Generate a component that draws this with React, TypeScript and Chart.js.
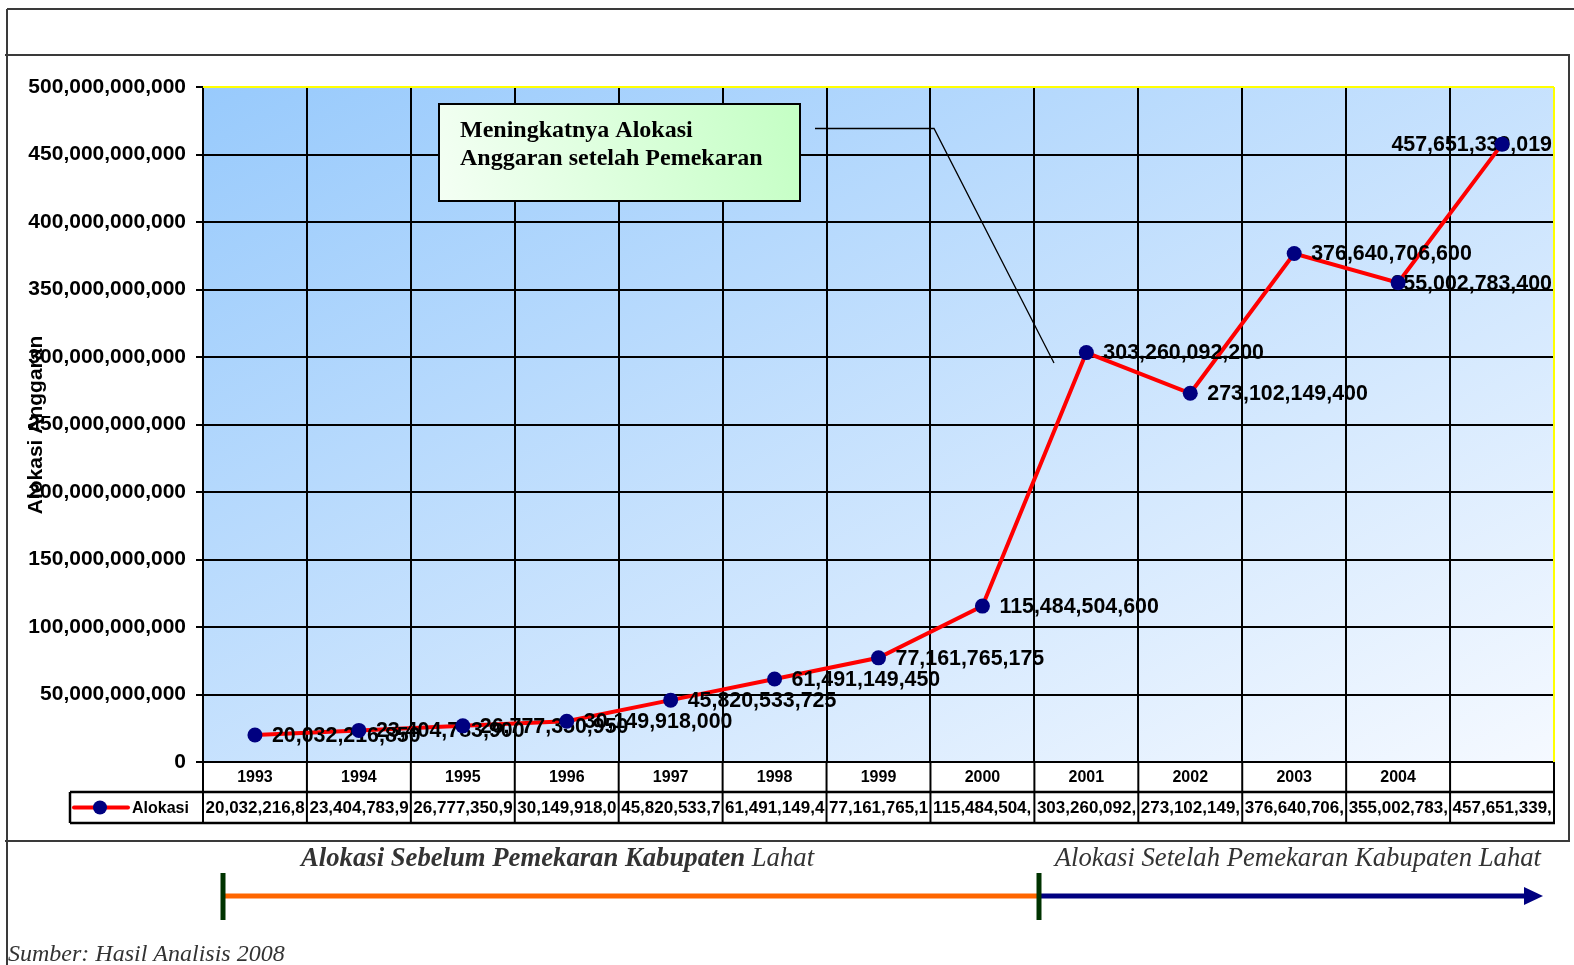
import React, { useEffect, useRef } from 'react';
import { Chart, registerables } from 'chart.js';

Chart.register(...registerables);

// ---------- data ----------
const categories = ['1993', '1994', '1995', '1996', '1997', '1998', '1999', '2000', '2001', '2002', '2003', '2004', ''];
const allocation = [
  20032216850, 23404783900, 26777350950, 30149918000, 45820533725, 61491149450,
  77161765175, 115484504600, 303260092200, 273102149400, 376640706600, 355002783400, 457651339019,
];
const yMin = 0;
const yMax = 500000000000;
const yStep = 50000000000;
const seriesName = 'Alokasi';
const axisTitle = 'Alokasi Anggaran';
const noteLines = ['Meningkatnya Alokasi', 'Anggaran setelah Pemekaran'];
const beforeLabelBold = 'Alokasi Sebelum Pemekaran Kabupaten';
const beforeLabelRest = ' Lahat';
const afterLabel = 'Alokasi Setelah Pemekaran Kabupaten Lahat';
const sourceNote = 'Sumber: Hasil Analisis 2008';

const SANS = '"Liberation Sans", Arial, sans-serif';
const SERIF = '"Liberation Serif", "Times New Roman", serif';

const fmt = (v: number) => String(Math.round(v)).replace(/\B(?=(\d{3})+(?!\d))/g, ',');

function line(ctx: CanvasRenderingContext2D, x1: number, y1: number, x2: number, y2: number) {
  ctx.beginPath();
  ctx.moveTo(x1, y1);
  ctx.lineTo(x2, y2);
  ctx.stroke();
}

function drawLabels(chart: any) {
  const { ctx, chartArea: a } = chart;
  const meta = chart.getDatasetMeta(1);
  ctx.save();
  ctx.font = `bold 21.4px ${SANS}`;
  ctx.textBaseline = 'middle';
  ctx.textAlign = 'left';
  ctx.fillStyle = '#000';
  meta.data.forEach((pt: any, i: number) => {
    const txt = fmt(allocation[i]);
    const w = ctx.measureText(txt).width;
    let x = pt.x + 17;
    if (x + w > a.right - 2) x = a.right - 2 - w;
    ctx.fillText(txt, x, pt.y + 1);
  });
  ctx.restore();
}

const decorPlugin = {
  id: 'decor',
  beforeDraw(chart: any) {
    const { ctx, chartArea: a } = chart;
    ctx.save();
    ctx.fillStyle = '#fff';
    ctx.fillRect(0, 0, chart.width, chart.height);
    const W = a.right - a.left;
    const H = a.bottom - a.top;
    const k = 2 / (1 / (W * W) + 1 / (H * H));
    const g = ctx.createLinearGradient(a.left, a.top, a.left + k / W, a.top + k / H);
    g.addColorStop(0, '#98CAFC');
    g.addColorStop(1, '#F5F9FF');
    ctx.fillStyle = g;
    ctx.fillRect(a.left, a.top, W, H);
    ctx.restore();
  },
  afterDatasetDraw(chart: any, args: any) {
    if (args.index === 1) drawLabels(chart);
  },
  afterDraw(chart: any) {
    const { ctx, chartArea: a } = chart;
    const xs = chart.scales.x;
    ctx.save();

    // plot border (yellow top & right)
    ctx.strokeStyle = '#FFFF00';
    ctx.lineWidth = 2;
    line(ctx, a.left, a.top, a.right, a.top);
    line(ctx, a.right, a.top, a.right, a.bottom);

    // y-axis title
    ctx.save();
    ctx.translate(36, 425);
    ctx.rotate(-Math.PI / 2);
    ctx.font = `bold 21px ${SANS}`;
    ctx.fillStyle = '#000';
    ctx.textAlign = 'center';
    ctx.textBaseline = 'middle';
    ctx.fillText(axisTitle, 0, 0);
    ctx.restore();

    // data table
    const n = categories.length;
    const colW = (a.right - a.left) / n;
    const top = a.bottom;
    const mid = a.bottom + 30;
    const bot = a.bottom + 61;
    const keyLeft = 70;
    ctx.strokeStyle = '#000';
    ctx.lineWidth = 2;
    for (let i = 0; i <= n; i++) {
      const x = i < n ? xs.getPixelForTick(i) - colW / 2 : a.right;
      line(ctx, x, top, x, bot);
    }
    ctx.lineWidth = 2.5;
    line(ctx, keyLeft, mid, a.right + 1, mid);
    line(ctx, keyLeft, bot, a.right + 1, bot);
    line(ctx, keyLeft, mid, keyLeft, bot);

    ctx.fillStyle = '#000';
    ctx.font = `bold 16px ${SANS}`;
    ctx.textBaseline = 'middle';
    ctx.textAlign = 'center';
    categories.forEach((c, i) => {
      ctx.fillText(c, xs.getPixelForTick(i), (top + mid) / 2 + 1);
    });
    ctx.textAlign = 'left';
    ctx.font = `bold 17px ${SANS}`;
    allocation.forEach((v, i) => {
      let txt = fmt(v);
      const maxW = colW - 3;
      while (txt.length > 0 && ctx.measureText(txt).width > maxW) txt = txt.slice(0, -1);
      ctx.fillText(txt, xs.getPixelForTick(i) - colW / 2 + 2.5, (mid + bot) / 2 + 1);
    });
    // legend key
    const ky = (mid + bot) / 2;
    ctx.strokeStyle = '#FF0000';
    ctx.lineWidth = 4;
    ctx.lineCap = 'round';
    line(ctx, keyLeft + 4, ky, keyLeft + 58, ky);
    ctx.lineCap = 'butt';
    ctx.fillStyle = '#000080';
    ctx.beginPath();
    ctx.arc(keyLeft + 30, ky, 7, 0, Math.PI * 2);
    ctx.fill();
    ctx.fillStyle = '#000';
    ctx.font = `bold 16px ${SANS}`;
    ctx.fillText(seriesName, keyLeft + 62, ky + 1);

    // annotation box
    const bx = 439, by = 104, bw = 361, bh = 97;
    const g2 = ctx.createLinearGradient(bx, by + bh, bx + bw, by);
    g2.addColorStop(0, '#F4FFF4');
    g2.addColorStop(1, '#C4FFC4');
    ctx.fillStyle = g2;
    ctx.fillRect(bx, by, bw, bh);
    ctx.strokeStyle = '#000';
    ctx.lineWidth = 2;
    ctx.strokeRect(bx, by, bw, bh);
    ctx.fillStyle = '#000';
    ctx.font = `bold 24px ${SERIF}`;
    ctx.textBaseline = 'middle';
    ctx.fillText(noteLines[0], 460, 131);
    ctx.fillText(noteLines[1], 460, 159);
    ctx.lineWidth = 1.3;
    ctx.beginPath();
    ctx.moveTo(815, 128.5);
    ctx.lineTo(934, 128.5);
    ctx.lineTo(1054, 363);
    ctx.stroke();

    // frame
    ctx.strokeStyle = '#3a3a3a';
    ctx.lineWidth = 2;
    line(ctx, 7, 9, 1574, 9);
    line(ctx, 7, 9, 7, 965);
    line(ctx, 5, 55, 1570, 55);
    line(ctx, 1569, 55, 1569, 842);
    line(ctx, 5, 841, 1570, 841);

    // period labels
    ctx.fillStyle = '#333';
    ctx.textBaseline = 'alphabetic';
    ctx.textAlign = 'left';
    ctx.font = `italic bold 26.7px ${SERIF}`;
    ctx.fillText(beforeLabelBold, 301, 866);
    const bw1 = ctx.measureText(beforeLabelBold).width;
    ctx.font = `italic 26.7px ${SERIF}`;
    ctx.fillText(beforeLabelRest, 301 + bw1, 866);
    ctx.textAlign = 'right';
    ctx.fillText(afterLabel, 1541, 866);

    // period arrows
    ctx.lineWidth = 5;
    ctx.strokeStyle = '#FF6600';
    line(ctx, 223, 896, 1039, 896);
    ctx.strokeStyle = '#000080';
    line(ctx, 1039, 896, 1526, 896);
    ctx.fillStyle = '#000080';
    ctx.beginPath();
    ctx.moveTo(1524, 887);
    ctx.lineTo(1543, 896);
    ctx.lineTo(1524, 905);
    ctx.closePath();
    ctx.fill();
    ctx.strokeStyle = '#003300';
    line(ctx, 223, 873, 223, 920);
    line(ctx, 1039, 873, 1039, 920);

    // source
    ctx.fillStyle = '#333';
    ctx.textAlign = 'left';
    ctx.font = `italic 24px ${SERIF}`;
    ctx.fillText(sourceNote, 8, 961);

    ctx.restore();
  },
};

export default function App() {
  const ref = useRef<HTMLCanvasElement | null>(null);
  useEffect(() => {
    if (!ref.current) return;
    const chart = new Chart(ref.current, {
      type: 'line',
      data: {
        labels: categories,
        datasets: [
          {
            label: seriesName,
            data: allocation,
            showLine: false,
            pointRadius: 7.5,
            pointBackgroundColor: '#000080',
            pointBorderColor: '#000080',
            pointBorderWidth: 0,
          },
          {
            label: seriesName + ' line',
            data: allocation,
            borderColor: '#FF0000',
            borderWidth: 4,
            pointRadius: 0,
            tension: 0,
          },
        ],
      },
      options: {
        responsive: false,
        animation: false,
        devicePixelRatio: 1,
        layout: { padding: { top: 87, right: 20, bottom: 0, left: 0 } },
        plugins: { legend: { display: false }, tooltip: { enabled: false }, title: { display: false } },
        scales: {
          x: {
            type: 'category',
            offset: true,
            grid: { offset: true, color: '#000', lineWidth: 2, drawTicks: false },
            border: { color: '#000', width: 2 },
            ticks: { display: false },
            afterFit: (s: any) => { s.height = 203; },
          },
          y: {
            min: yMin,
            max: yMax,
            ticks: {
              stepSize: yStep,
              color: '#000',
              padding: 10,
              font: { family: SANS, size: 21, weight: 'bold' },
              callback: (v: any) => fmt(Number(v)),
            },
            grid: { color: '#000', lineWidth: 2, tickLength: 7 },
            border: { color: '#000', width: 2 },
            afterFit: (s: any) => { s.width = 203; },
          },
        },
      },
      plugins: [decorPlugin],
    } as any);
    return () => chart.destroy();
  }, []);
  return (
    <div style={{ position: 'absolute', left: 0, top: 0, width: 1574, height: 965 }}>
      <canvas ref={ref} width={1574} height={965} style={{ display: 'block' }} />
    </div>
  );
}
